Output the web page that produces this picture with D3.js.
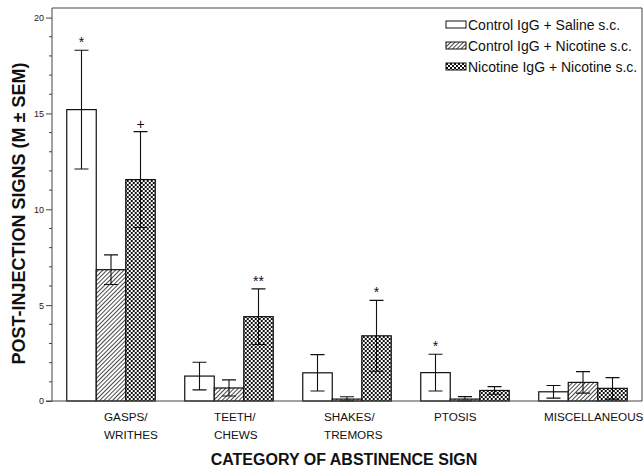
<!DOCTYPE html>
<html>
<head>
<meta charset="utf-8">
<script src="https://cdn.jsdelivr.net/npm/d3@7"></script>
<style>
  body { margin: 0; background: #fff; }
  svg { display: block; font-family: "Liberation Sans", Arial, sans-serif; }
</style>
</head>
<body>
<div id="chart"></div>
<script>
// data
const categories = ['GASPS/\nWRITHES', 'TEETH/\nCHEWS', 'SHAKES/\nTREMORS', 'PTOSIS', 'MISCELLANEOUS'];
const seriesNames = ['Control IgG + Saline s.c.', 'Control IgG + Nicotine s.c.', 'Nicotine IgG + Nicotine s.c.'];
const salineMean = [15.2, 1.3, 1.47, 1.48, 0.48];
const salineSem = [3.1, 0.72, 0.95, 0.96, 0.33];
const nicMean = [6.85, 0.68, 0.1, 0.1, 0.97];
const nicSem = [0.77, 0.42, 0.12, 0.13, 0.56];
const nicIgGMean = [11.55, 4.4, 3.4, 0.55, 0.66];
const nicIgGSem = [2.5, 1.45, 1.85, 0.2, 0.56];
// significance marks: [category index, series index, symbol]
const marks = [[0, 0, '*'], [0, 2, '+'], [1, 2, '**'], [2, 2, '*'], [3, 0, '*']];
const yTicks = [0, 5, 10, 15, 20];

const width = 644, height = 467;
const plotLeft = 52, plotRight = 642, plotTop = 8, plotBottom = 401;

const svg = d3.select('#chart').append('svg')
    .attr('width', width)
    .attr('height', height);

// patterns
const defs = svg.append('defs');
const hatch = defs.append('pattern')
    .attr('id', 'hatch')
    .attr('patternUnits', 'userSpaceOnUse')
    .attr('width', 3).attr('height', 3)
    .attr('patternTransform', 'rotate(45)');
hatch.append('rect').attr('width', 3).attr('height', 3).attr('fill', '#fff');
hatch.append('line')
    .attr('x1', 0).attr('y1', 0).attr('x2', 0).attr('y2', 3)
    .attr('stroke', '#1a1a1a').attr('stroke-width', 1.6);

const check = defs.append('pattern')
    .attr('id', 'check')
    .attr('patternUnits', 'userSpaceOnUse')
    .attr('width', 4).attr('height', 4);
check.append('rect').attr('width', 4).attr('height', 4).attr('fill', '#fff');
check.append('rect').attr('width', 2).attr('height', 2).attr('fill', '#111');
check.append('rect').attr('x', 2).attr('y', 2).attr('width', 2).attr('height', 2).attr('fill', '#111');

const fills = ['#fff', 'url(#hatch)', 'url(#check)'];

// scales
const x = d3.scaleBand()
    .domain(d3.range(categories.length))
    .range([plotLeft, plotRight])
    .paddingInner(0.25)
    .paddingOuter(0.125);

const xs = d3.scaleBand()
    .domain(d3.range(seriesNames.length))
    .range([0, x.bandwidth()]);

// category labels sit on their own, left-aligned grid
const xLabel = d3.scalePoint()
    .domain(d3.range(categories.length))
    .range([104, 544]);

const y = d3.scaleLinear()
    .domain([0, 20.5])
    .range([plotBottom, plotTop]);

const series = [
    { mean: salineMean, sem: salineSem },
    { mean: nicMean, sem: nicSem },
    { mean: nicIgGMean, sem: nicIgGSem }
];

// frame
svg.append('path')
    .attr('d', `M${plotLeft},${plotTop}H${plotRight}V${plotBottom}`)
    .attr('fill', 'none')
    .attr('stroke', '#444')
    .attr('stroke-width', 1);

// bars
const groups = svg.append('g')
    .selectAll('g')
    .data(categories)
    .join('g')
    .attr('transform', (d, i) => `translate(${x(i)},0)`);

series.forEach((s, si) => {
    groups.append('rect')
        .attr('x', xs(si))
        .attr('y', (d, i) => y(s.mean[i]))
        .attr('width', xs.bandwidth())
        .attr('height', (d, i) => y(0) - y(s.mean[i]))
        .attr('fill', fills[si])
        .attr('stroke', '#111')
        .attr('stroke-width', 1.2);

    // error bars
    groups.append('path')
        .attr('stroke', '#111')
        .attr('stroke-width', 1.1)
        .attr('fill', 'none')
        .attr('d', (d, i) => {
            const cx = xs(si) + xs.bandwidth() / 2;
            const hi = y(s.mean[i] + s.sem[i]);
            const lo = y(Math.max(0, s.mean[i] - s.sem[i]));
            return `M${cx},${hi}V${lo}M${cx - 7},${hi}H${cx + 7}M${cx - 7},${lo}H${cx + 7}`;
        });
});

// significance marks
svg.append('g')
    .selectAll('text')
    .data(marks)
    .join('text')
    .attr('x', d => x(d[0]) + xs(d[1]) + xs.bandwidth() / 2)
    .attr('y', d => y(series[d[1]].mean[d[0]] + series[d[1]].sem[d[0]]) - 3)
    .attr('text-anchor', 'middle')
    .attr('font-size', 14)
    .attr('fill', '#111')
    .text(d => d[2]);

// y axis
const yAxis = svg.append('g')
    .attr('transform', `translate(${plotLeft},0)`)
    .call(d3.axisLeft(y).tickValues(yTicks).tickSize(6).tickPadding(2));
yAxis.select('.domain').attr('stroke', '#444').attr('d', `M0,${plotTop}V${plotBottom}`);
yAxis.selectAll('.tick line').attr('stroke', '#444');
yAxis.selectAll('.tick text')
    .attr('font-size', 9)
    .attr('font-family', '"Liberation Sans", Arial, sans-serif')
    .attr('fill', '#222');

// minor ticks
svg.append('g')
    .selectAll('line')
    .data(d3.range(0, 21).filter(v => v % 5 !== 0))
    .join('line')
    .attr('x1', plotLeft - 3).attr('x2', plotLeft)
    .attr('y1', d => y(d)).attr('y2', d => y(d))
    .attr('stroke', '#444');

// x axis line
svg.append('line')
    .attr('x1', plotLeft - 6).attr('x2', plotRight)
    .attr('y1', plotBottom).attr('y2', plotBottom)
    .attr('stroke', '#444')
    .attr('stroke-width', 1.2);

// category labels
const catLabels = svg.append('g')
    .selectAll('text')
    .data(categories)
    .join('text')
    .attr('x', (d, i) => xLabel(i))
    .attr('y', 421)
    .attr('font-size', 11.7)
    .attr('fill', '#111');
catLabels.each(function(d, i) {
    d3.select(this).selectAll('tspan')
        .data(d.split('\n'))
        .join('tspan')
        .attr('x', xLabel(i))
        .attr('dy', (t, j) => j === 0 ? 0 : 17.5)
        .text(t => t);
});

// axis titles
svg.append('text')
    .attr('x', 344)
    .attr('y', 465)
    .attr('text-anchor', 'middle')
    .attr('font-size', 16)
    .attr('font-weight', 'bold')
    .attr('fill', '#111')
    .text('CATEGORY OF ABSTINENCE SIGN');

svg.append('text')
    .attr('transform', 'translate(24.5,213.5) rotate(-90)')
    .attr('text-anchor', 'middle')
    .attr('font-size', 18)
    .attr('font-weight', 'bold')
    .attr('fill', '#111')
    .text('POST-INJECTION SIGNS (M \u00B1 SEM)');

// legend
const legend = svg.append('g')
    .selectAll('g')
    .data(seriesNames)
    .join('g')
    .attr('transform', (d, i) => `translate(446,${21 + i * 21})`);
legend.append('rect')
    .attr('width', 20).attr('height', 7)
    .attr('fill', (d, i) => fills[i])
    .attr('stroke', '#111')
    .attr('stroke-width', 1);
legend.append('text')
    .attr('x', 22)
    .attr('y', 8.5)
    .attr('font-size', 14)
    .attr('fill', '#111')
    .text(d => d);
</script>
</body>
</html>
